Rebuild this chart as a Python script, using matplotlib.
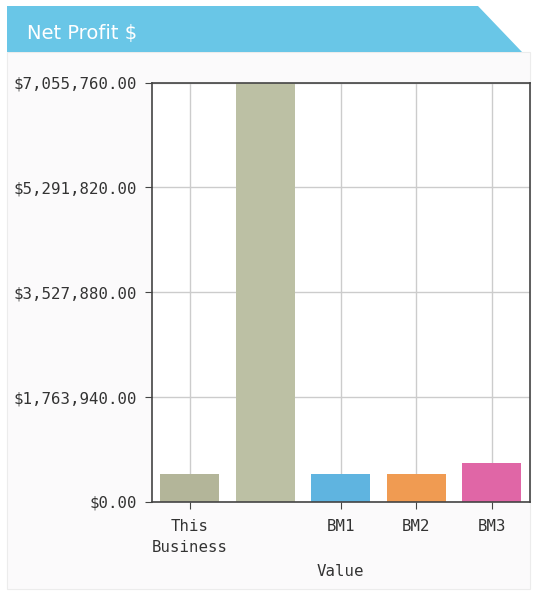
import matplotlib.pyplot as plt
from matplotlib.patches import Polygon, Rectangle
from matplotlib.ticker import FuncFormatter

categories = ["This\nBusiness", "", "BM1", "BM2", "BM3"]
values = [478000, 7055760, 478000, 478000, 663000]
bar_colors = ["#b3b599", "#bcc0a4", "#5fb4e0", "#f09b52", "#e066a6"]
y_ticks = [0, 1763940, 3527880, 5291820, 7055760]
title = "Net Profit $"

W, H = 536, 591
fig = plt.figure(figsize=(W / 100, H / 100), dpi=100)
fig.patch.set_facecolor("white")


def fx(px):
    return px / W


def fy(py):
    return 1 - py / H


# panel background and header band
fig.patches.append(Rectangle((fx(7), fy(589)), fx(530) - fx(7), fy(52) - fy(589),
                             transform=fig.transFigure, facecolor="#fbfafb",
                             edgecolor="#ececec", lw=0.8, zorder=-2))
fig.patches.append(Polygon([(fx(7), fy(6)), (fx(478), fy(6)), (fx(522), fy(52)), (fx(7), fy(52))],
                           closed=True, transform=fig.transFigure,
                           facecolor="#69c6e7", edgecolor="none", zorder=-1))
fig.text(fx(27), fy(34), title, color="white", fontsize=14,
         family="DejaVu Sans", va="center", ha="left")

ax = fig.add_axes([fx(152), fy(502), fx(529.5) - fx(152), fy(82.5) - fy(502)])
ax.set_zorder(5)
ax.set_facecolor("white")
x = list(range(len(categories)))
ax.bar(x, values, width=0.78, color=bar_colors, zorder=2)

ax.set_xlim(-0.5, len(categories) - 0.5)
ax.set_ylim(0, y_ticks[-1])
ax.set_yticks(y_ticks)
ax.yaxis.set_major_formatter(FuncFormatter(lambda v, p: "${:,.2f}".format(v)))

shown = [i for i, c in enumerate(categories) if c]
ax.set_xticks(shown)
ax.set_xticklabels([categories[i] for i in shown], linespacing=1.55)

ax.set_axisbelow(True)
ax.grid(True, color="#cccccc", lw=1)
for s in ax.spines.values():
    s.set_color("#444444")
    s.set_linewidth(1.2)
ax.tick_params(axis="both", direction="out", length=5, color="#444444",
               labelcolor="#333333", labelsize=11.3)
ax.tick_params(axis="y", pad=6)
ax.tick_params(axis="x", pad=7)
for lbl in ax.get_xticklabels() + ax.get_yticklabels():
    lbl.set_family("DejaVu Sans Mono")
ax.set_xlabel("Value", fontsize=11.3, family="DejaVu Sans Mono", color="#333333", labelpad=6)

fig.savefig("out.png", dpi=100)
